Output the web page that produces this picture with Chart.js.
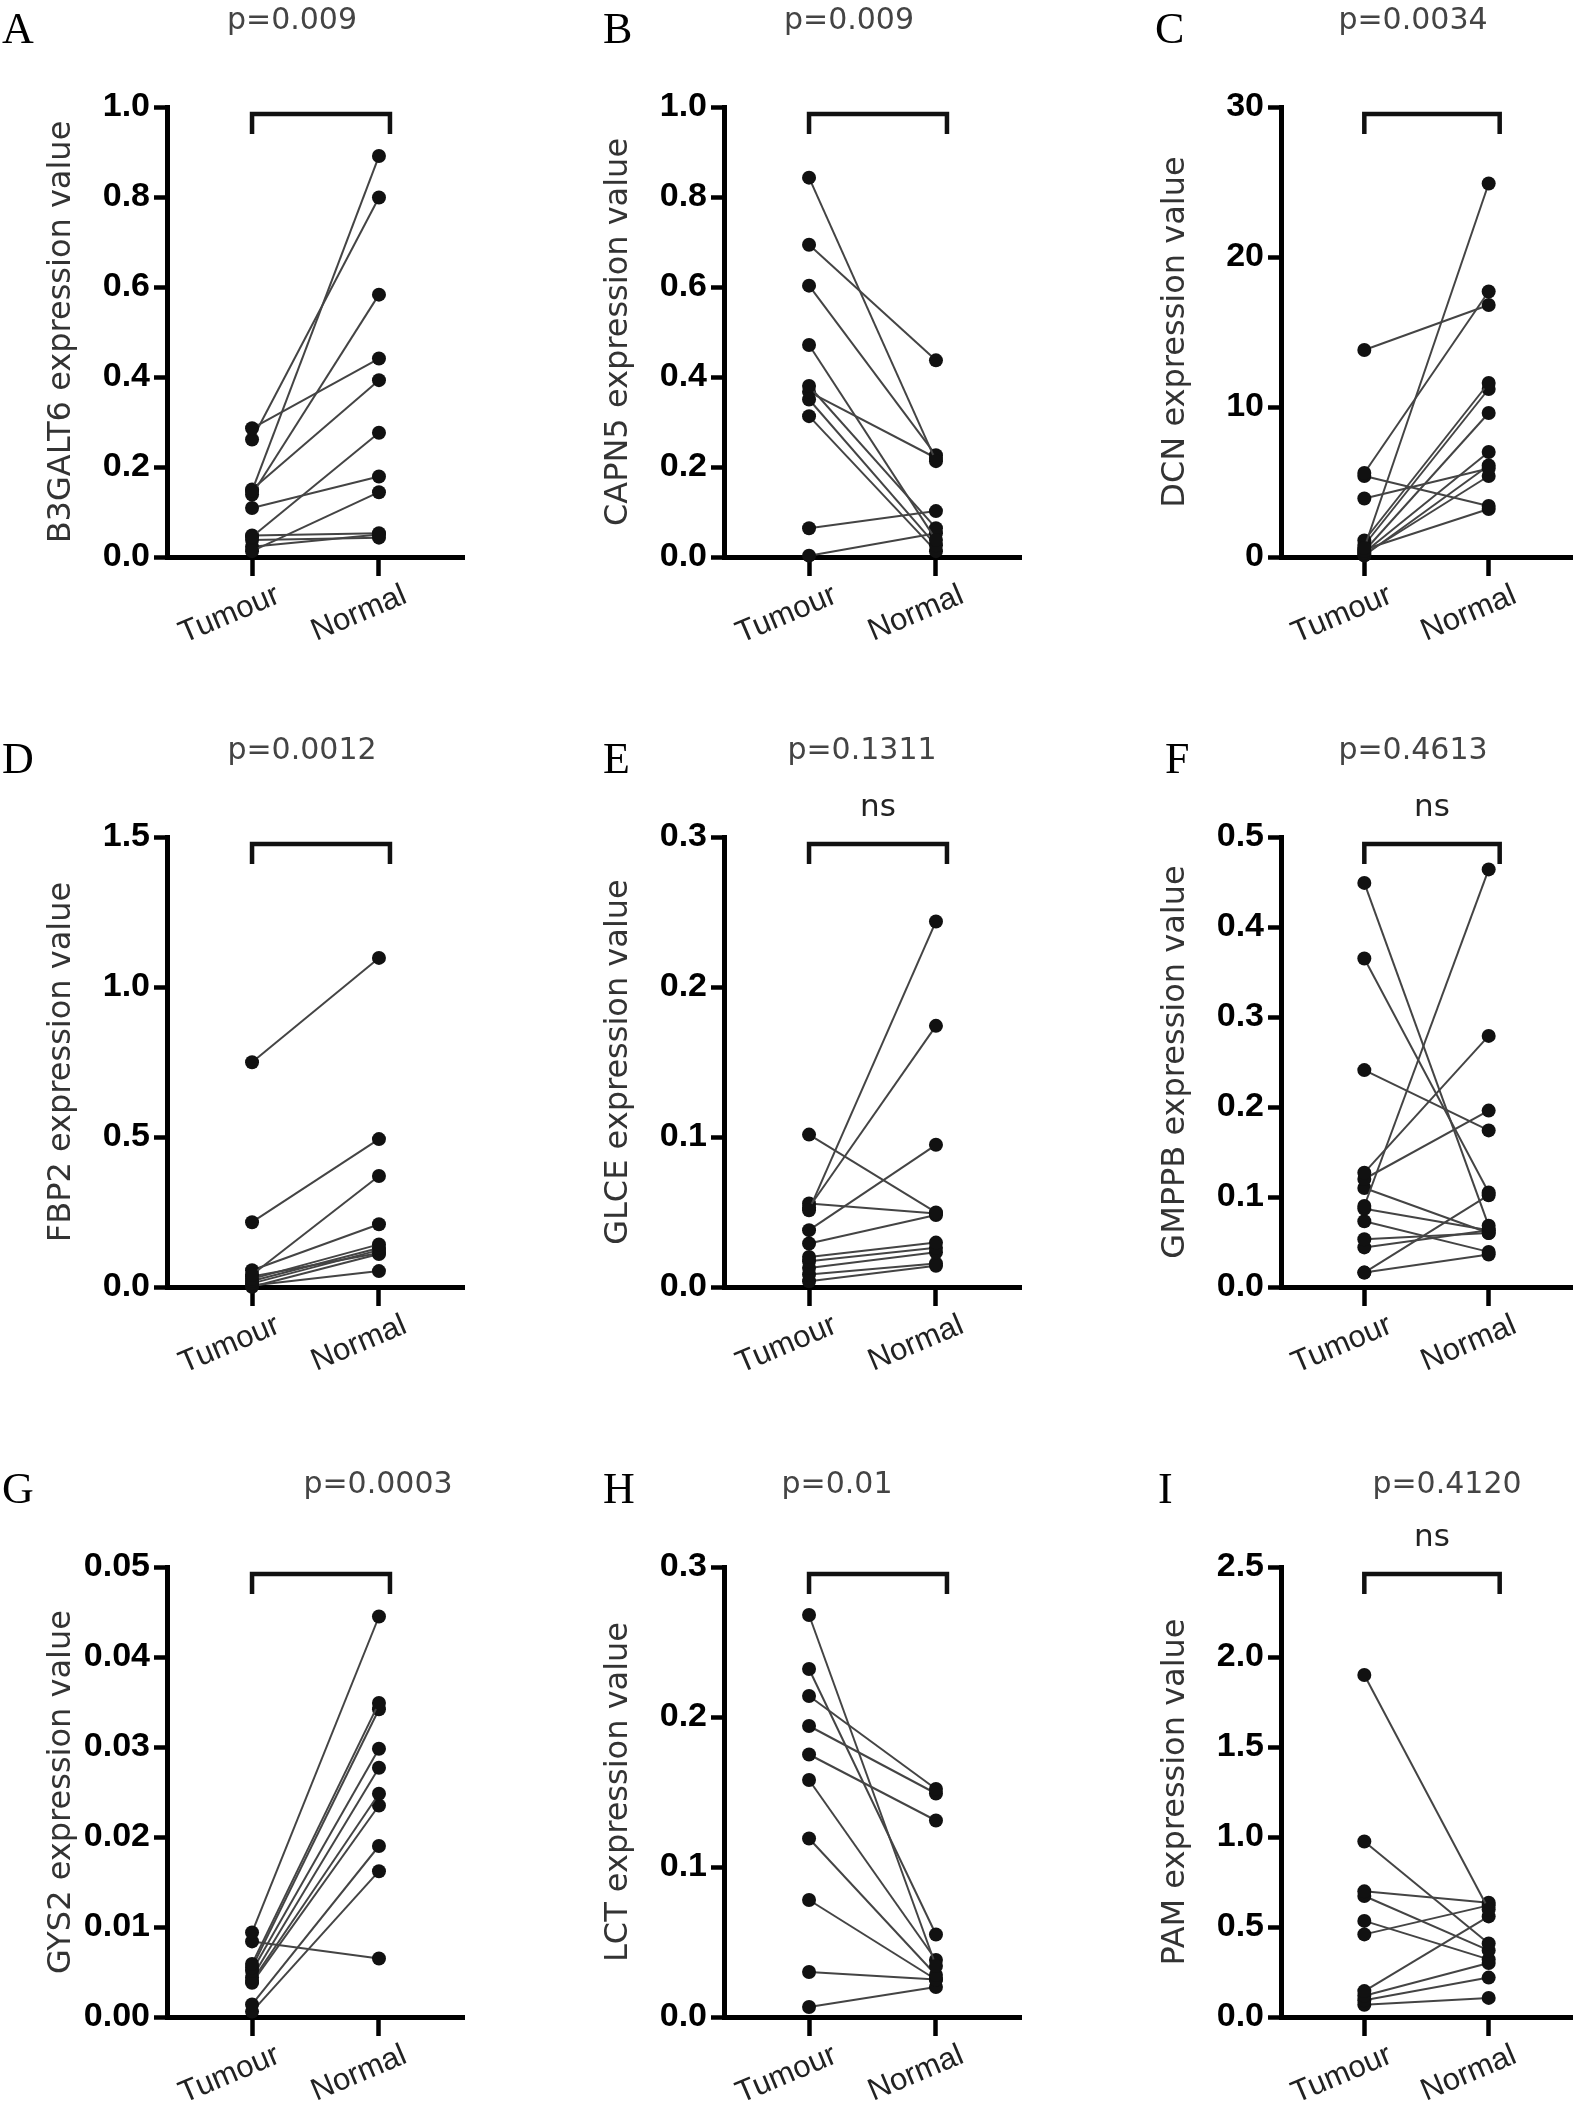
<!DOCTYPE html>
<html>
<head>
<meta charset="utf-8">
<title>Paired expression values, tumour vs normal</title>
<script src="https://cdn.jsdelivr.net/npm/chart.js@4.4.1/dist/chart.umd.min.js"></script>
<style>
  html, body { margin: 0; padding: 0; background: #fff; overflow: hidden; }
  #figure { position: relative; width: 1579px; height: 2110px; }
  #figure canvas { position: absolute; }
</style>
</head>
<body>
<div id="figure"></div>
<script>
// --- data ---
const groups = ['Tumour', 'Normal'];
const panelLetters = ['A', 'B', 'C', 'D', 'E', 'F', 'G', 'H', 'I'];
const genes = ['B3GALT6', 'CAPN5', 'DCN', 'FBP2', 'GLCE', 'GMPPB', 'GYS2', 'LCT', 'PAM'];
const pValues = ['p=0.009', 'p=0.009', 'p=0.0034', 'p=0.0012', 'p=0.1311', 'p=0.4613', 'p=0.0003', 'p=0.01', 'p=0.4120'];
const nsMarks = ['', '', '', '', 'ns', 'ns', '', '', 'ns'];
const yMaxima = [1.0, 1.0, 30, 1.5, 0.3, 0.5, 0.05, 0.3, 2.5];
const yStepSizes = [0.2, 0.2, 10, 0.5, 0.1, 0.1, 0.01, 0.1, 0.5];
const yDecimals = [1, 1, 0, 1, 1, 1, 2, 1, 1];

const b3galt6Tumour = [0.286, 0.261, 0.147, 0.139, 0.150, 0.045, 0.109, 0.013, 0.048, 0.038, 0.023];
const b3galt6Normal = [0.441, 0.799, 0.891, 0.583, 0.393, 0.276, 0.179, 0.144, 0.053, 0.043, 0.050];
const capn5Tumour = [0.843, 0.694, 0.603, 0.471, 0.380, 0.367, 0.350, 0.313, 0.064, 0.003];
const capn5Normal = [0.213, 0.437, 0.226, 0.038, 0.064, 0.220, 0.026, 0.013, 0.102, 0.053];
const dcnTumour = [13.8, 5.6, 5.4, 3.9, 0.6, 1.1, 0.8, 0.4, 0.3, 0.2, 0.5, 0.1];
const dcnNormal = [16.8, 17.7, 3.4, 5.9, 24.9, 11.6, 11.2, 9.6, 7.0, 5.4, 3.2, 6.1];
const fbp2Tumour = [0.749, 0.216, 0.041, 0.056, 0.027, 0.020, 0.012, 0.035, 0.005, 0.001];
const fbp2Normal = [1.097, 0.493, 0.370, 0.209, 0.142, 0.130, 0.123, 0.113, 0.053, 0.110];
const glceTumour = [0.1016, 0.0512, 0.0530, 0.0379, 0.0557, 0.0290, 0.0200, 0.0172, 0.0127, 0.0083, 0.0038];
const glceNormal = [0.0497, 0.2437, 0.1741, 0.0948, 0.0490, 0.0480, 0.0296, 0.0261, 0.0231, 0.0157, 0.0142];
const gmppbTumour = [0.449, 0.365, 0.241, 0.127, 0.120, 0.090, 0.087, 0.073, 0.110, 0.053, 0.044, 0.016, 0.016];
const gmppbNormal = [0.068, 0.105, 0.174, 0.279, 0.196, 0.464, 0.063, 0.039, 0.060, 0.060, 0.063, 0.102, 0.036];
const gys2Tumour = [0.0094, 0.0084, 0.0059, 0.0055, 0.0051, 0.0044, 0.0040, 0.0038, 0.0014, 0.0006];
const gys2Normal = [0.0445, 0.0065, 0.0349, 0.0342, 0.0298, 0.0277, 0.0248, 0.0235, 0.0190, 0.0162];
const lctTumour = [0.268, 0.232, 0.214, 0.194, 0.175, 0.158, 0.119, 0.078, 0.030, 0.0067];
const lctNormal = [0.034, 0.055, 0.152, 0.149, 0.131, 0.038, 0.028, 0.025, 0.025, 0.020];
const pamTumour = [1.900, 0.975, 0.698, 0.672, 0.534, 0.459, 0.144, 0.118, 0.093, 0.068];
const pamNormal = [0.597, 0.408, 0.635, 0.370, 0.320, 0.620, 0.559, 0.300, 0.219, 0.106];

const tumourSeries = [b3galt6Tumour, capn5Tumour, dcnTumour, fbp2Tumour, glceTumour, gmppbTumour, gys2Tumour, lctTumour, pamTumour];
const normalSeries = [b3galt6Normal, capn5Normal, dcnNormal, fbp2Normal, glceNormal, gmppbNormal, gys2Normal, lctNormal, pamNormal];

// --- layout of the 3x3 grid (pixels) ---
const colLeft = [0, 557, 1114];
const colWidth = [557, 557, 465];
const rowTop = [0, 730, 1460];
const CANVAS_H = 650;
const AXIS_X = 167, AREA_TOP = 107, AREA_BOTTOM = 557, AREA_RIGHT = 464;
const letterX = [2, 46, 41, 2, 46, 51, 2, 46, 44];
const pCenterX = [292, 292, 299, 302, 305, 299, 378, 280, 333];
const pCenterY = [21, 21, 21, 21, 21, 21, 25, 25, 25];

// bracket, letter, p-value and "ns" label
const annotations = {
    id: 'annotations',
    afterDraw(chart, args, opts) {
        const { ctx, chartArea, scales } = chart;
        const xL = scales.x.getPixelForValue(0);
        const xR = scales.x.getPixelForValue(1) + 11;
        const yTop = chartArea.top + 7;
        const yLeg = chartArea.top + 27;
        ctx.save();
        ctx.strokeStyle = '#111';
        ctx.lineWidth = 4.5;
        ctx.lineJoin = 'miter';
        ctx.beginPath();
        ctx.moveTo(xL, yLeg);
        ctx.lineTo(xL, yTop);
        ctx.lineTo(xR, yTop);
        ctx.lineTo(xR, yLeg);
        ctx.stroke();

        ctx.fillStyle = '#000';
        ctx.font = '44px "Liberation Serif", "Times New Roman", serif';
        ctx.textAlign = 'left';
        ctx.textBaseline = 'alphabetic';
        ctx.fillText(opts.letter, opts.letterX, 43);

        ctx.fillStyle = '#444';
        ctx.font = '30px "DejaVu Sans", sans-serif';
        ctx.textAlign = 'center';
        ctx.textBaseline = 'middle';
        ctx.fillText(opts.pValue, opts.pX, opts.pY);

        if (opts.ns) {
            ctx.fillStyle = '#222';
            ctx.font = '31px "DejaVu Sans", sans-serif';
            ctx.fillText(opts.ns, (xL + xR) / 2, 78);
        }
        ctx.restore();
    }
};

const figure = document.getElementById('figure');

genes.forEach((gene, i) => {
    const col = i % 3;
    const row = Math.floor(i / 3);
    const canvas = document.createElement('canvas');
    canvas.width = colWidth[col];
    canvas.height = CANVAS_H;
    canvas.style.left = colLeft[col] + 'px';
    canvas.style.top = rowTop[row] + 'px';
    canvas.style.width = colWidth[col] + 'px';
    canvas.style.height = CANVAS_H + 'px';
    figure.appendChild(canvas);

    const tumour = tumourSeries[i];
    const normal = normalSeries[i];
    const datasets = tumour.map((t, k) => ({
        data: [{ x: 0, y: t }, { x: 1, y: normal[k] }],
        showLine: true,
        borderColor: '#444',
        borderWidth: 2,
        pointRadius: 7,
        pointBackgroundColor: '#111',
        pointBorderColor: '#111',
        pointBorderWidth: 0,
        clip: false
    }));

    const dec = yDecimals[i];

    new Chart(canvas.getContext('2d'), {
        type: 'scatter',
        data: { datasets },
        plugins: [annotations],
        options: {
            responsive: false,
            animation: false,
            devicePixelRatio: 1,
            layout: { padding: { left: 0, top: AREA_TOP, right: colWidth[col] - AREA_RIGHT, bottom: 0 } },
            plugins: {
                legend: { display: false },
                tooltip: { enabled: false },
                annotations: {
                    letter: panelLetters[i],
                    letterX: letterX[i],
                    pValue: pValues[i],
                    pX: pCenterX[i],
                    pY: pCenterY[i],
                    ns: nsMarks[i]
                }
            },
            scales: {
                x: {
                    type: 'linear',
                    min: -0.67,
                    max: 1.67,
                    afterBuildTicks: s => { s.ticks = groups.map((g, k) => ({ value: k })); },
                    afterFit: s => { s.height = CANVAS_H - AREA_BOTTOM; },
                    border: { display: true, color: '#000', width: 5 },
                    grid: { display: true, drawOnChartArea: false, drawTicks: true, tickLength: 19, tickWidth: 4.5, tickColor: '#000' },
                    ticks: {
                        autoSkip: false,
                        minRotation: 23,
                        maxRotation: 23,
                        labelOffset: 26,
                        padding: 1,
                        color: '#222',
                        font: { family: 'Liberation Sans', size: 31 },
                        callback: v => groups[v]
                    }
                },
                y: {
                    min: 0,
                    max: yMaxima[i],
                    afterFit: s => { s.width = AXIS_X; },
                    border: { display: true, color: '#000', width: 5 },
                    grid: { display: true, drawOnChartArea: false, drawTicks: true, tickLength: 13, tickWidth: 4.5, tickColor: '#000' },
                    ticks: {
                        stepSize: yStepSizes[i],
                        padding: 4,
                        color: '#000',
                        font: { family: 'Liberation Sans', weight: 'bold', size: 34 },
                        callback: v => v.toFixed(dec)
                    },
                    title: {
                        display: true,
                        text: gene + ' expression value',
                        color: '#333',
                        font: { family: 'DejaVu Sans', size: 32 },
                        padding: { top: 42, bottom: 0 }
                    }
                }
            }
        }
    });
});
</script>
</body>
</html>
